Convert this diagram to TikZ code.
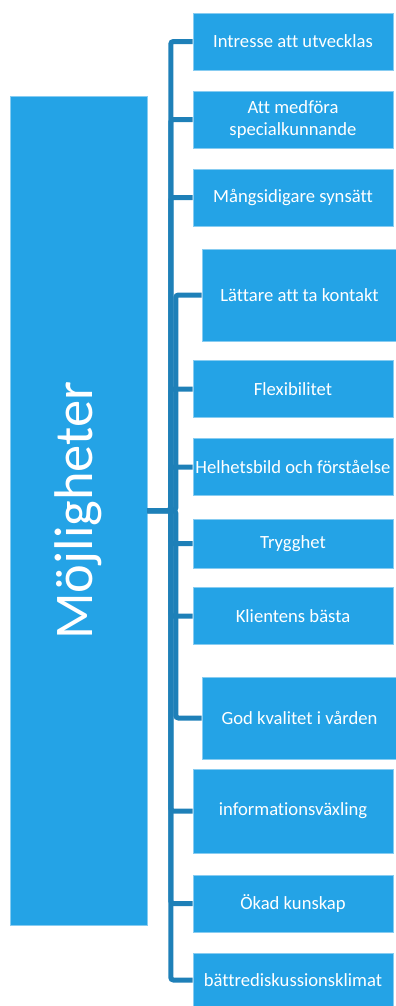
\documentclass[tikz,border=0pt]{standalone}
\usepackage{fontspec}
\setmainfont{Carlito}[Ligatures=NoCommon]
\usepackage{tikz}
\usetikzlibrary{positioning}
\definecolor{boxblue}{HTML}{24A3E6}
\definecolor{linkblue}{HTML}{1E80B8}
\tikzstyle{mainbox} = [rectangle, minimum width=2.74cm, minimum height=16.58cm, text centered, draw=boxblue!55!white, line width=0.3pt, fill=boxblue, text=white, font=\fontsize{31pt}{36pt}\selectfont]
\tikzstyle{item} = [rectangle, minimum width=4cm, minimum height=1.14cm, align=center, draw=boxblue!55!white, line width=0.3pt, fill=boxblue, text=white, font=\fontsize{10.6pt}{12pt}\selectfont, inner sep=1pt]
\tikzstyle{link} = [draw=linkblue, line width=0.1cm, rounded corners=1.5pt]

\begin{document}
\begin{tikzpicture}[node distance=1.56cm]
\useasboundingbox (0,0) rectangle (7.92,-20.12);

% Nodes
\node (main) [mainbox] at (1.57,-10.21) {\rotatebox{90}{Möjligheter}};
\node (c1) [item] at (5.86,-0.83) {Intresse att utvecklas};
\node (c2) [item, below of=c1] {Att medföra\\specialkunnande};
\node (c3) [item, below of=c2] {Mångsidigare synsätt};
\node (c4) [item, below of=c3, yshift=-0.39cm, xshift=0.13cm, minimum width=3.9cm, minimum height=1.84cm] {Lättare att ta kontakt};
\node (c5) [item, below of=c4, yshift=-0.32cm, xshift=-0.13cm] {Flexibilitet};
\node (c6) [item, below of=c5] {Helhetsbild och förståelse};
\node (c7) [item, below of=c6, yshift=0.03cm, minimum height=0.98cm] {Trygghet};
\node (c8) [item, below of=c7, yshift=0.11cm] {Klientens bästa};
\node (c9) [item, below of=c8, yshift=-0.48cm, xshift=0.13cm, minimum width=3.9cm, minimum height=1.64cm] {God kvalitet i vården};
\node (c10) [item, below of=c9, yshift=-0.30cm, xshift=-0.13cm, minimum height=1.68cm] {informationsväxling};
\node (c11) [item, below of=c10, yshift=-0.29cm] {Ökad kunskap};
\node (c12) [item, below of=c11, yshift=0.03cm, minimum height=1.08cm] {bättrediskussionsklimat};

% Connectors
\draw [link] (main.east) -- ++(0.47,0) |- (c1.west);
\draw [link] (main.east) -- ++(0.47,0) |- (c2.west);
\draw [link] (main.east) -- ++(0.47,0) |- (c3.west);
\draw [link] (main.east) -- ++(0.57,0) |- (c4.west);
\draw [link] (main.east) -- ++(0.47,0) |- (c5.west);
\draw [link] (main.east) -- ++(0.47,0) |- (c6.west);
\draw [link] (main.east) -- ++(0.47,0) |- (c7.west);
\draw [link] (main.east) -- ++(0.47,0) |- (c8.west);
\draw [link] (main.east) -- ++(0.57,0) |- (c9.west);
\draw [link] (main.east) -- ++(0.47,0) |- (c10.west);
\draw [link] (main.east) -- ++(0.47,0) |- (c11.west);
\draw [link] (main.east) -- ++(0.47,0) |- (c12.west);

\end{tikzpicture}
\end{document}
